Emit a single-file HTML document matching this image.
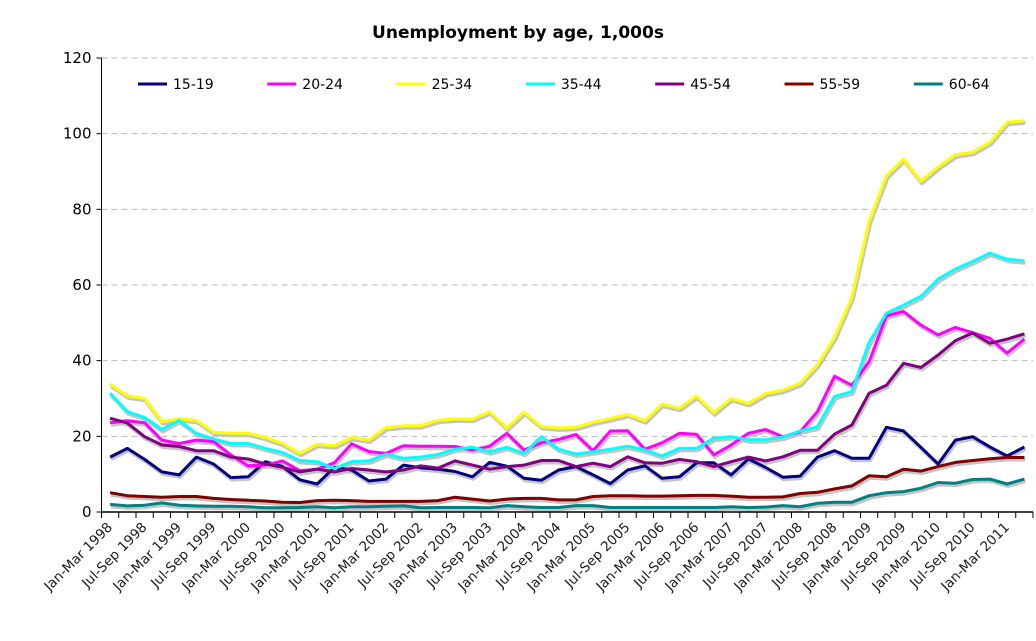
<!DOCTYPE html>
<html><head><meta charset="utf-8"><style>
body{margin:0;background:#fff;}
svg text{font-family:"DejaVu Sans","Liberation Sans",sans-serif;}
</style></head><body>
<svg id="c" width="1036" height="636" xmlns="http://www.w3.org/2000/svg">
<text x="518" y="38" text-anchor="middle" font-size="17" font-weight="bold" fill="#000">Unemployment by age, 1,000s</text>
<g id="grid"></g><g id="shadows"></g><g id="lines"></g><g id="axes"></g><g id="legend"></g>
</svg>
<script>
const seriesNames=["15-19","20-24","25-34","35-44","45-54","55-59","60-64"];
const s1519=[14.5,16.8,13.9,10.6,9.8,14.5,12.7,9.1,9.3,13.3,12.0,8.5,7.4,11.8,11.1,8.2,8.7,12.4,11.7,11.3,10.7,9.3,13.1,12.1,8.9,8.4,11.1,12.0,9.8,7.5,11.1,12.2,8.9,9.3,13.0,13.0,9.8,14.0,11.8,9.2,9.5,14.5,16.2,14.2,14.2,22.4,21.4,17.1,12.7,19.0,19.9,17.2,14.8,17.2];
const s2024=[23.6,24.1,23.6,19.0,18.1,19.0,18.6,15.1,12.2,12.4,13.5,10.9,11.3,13.0,18.0,16.0,15.5,17.5,17.4,17.4,17.3,16.4,17.4,20.8,16.4,18.3,19.2,20.5,16.2,21.4,21.5,16.6,18.3,20.8,20.5,15.1,17.7,20.8,21.8,19.9,21.2,26.5,35.9,33.5,39.7,51.8,53.0,49.4,46.8,48.8,47.4,45.9,42.0,45.7];
const s2534=[33.8,30.7,30.0,23.9,24.6,24.2,21.1,20.8,20.8,19.7,18.1,15.5,17.9,17.5,19.7,19.0,22.3,22.8,22.8,24.2,24.6,24.5,26.5,22.2,26.4,22.6,22.2,22.4,23.7,24.7,25.8,24.1,28.5,27.4,30.7,26.2,30.0,28.7,31.3,32.2,34.0,38.9,46.2,56.8,76.8,88.8,93.3,87.4,91.2,94.4,95.1,97.7,103.0,103.4];
const s3544=[31.4,26.5,25.0,21.8,24.2,20.8,19.3,18.1,18.1,16.8,15.7,13.6,13.3,11.5,13.3,13.5,15.3,14.2,14.5,15.2,16.6,17.1,15.9,17.1,15.5,19.9,16.6,15.3,15.9,16.6,17.4,16.4,14.8,16.8,16.8,19.5,19.9,19.1,19.1,19.8,21.4,22.5,30.5,31.8,44.8,52.5,54.7,57.0,61.5,64.2,66.2,68.4,66.8,66.4];
const s4554=[24.8,23.5,19.9,17.7,17.3,16.2,16.2,14.5,14.0,12.7,11.8,10.6,11.3,10.6,11.5,11.1,10.6,11.1,12.2,11.6,13.5,12.4,11.3,12.0,12.4,13.6,13.6,12.0,12.9,12.0,14.6,13.0,12.9,13.9,13.3,12.0,13.3,14.5,13.5,14.6,16.3,16.3,20.6,23.0,31.4,33.5,39.3,38.2,41.5,45.3,47.3,44.6,45.7,47.1];
const s5559=[5.1,4.3,4.1,3.9,4.1,4.1,3.6,3.3,3.1,2.9,2.6,2.5,3.0,3.1,3.0,2.8,2.8,2.8,2.8,3.0,3.9,3.4,2.9,3.4,3.6,3.6,3.2,3.2,4.1,4.3,4.3,4.2,4.2,4.3,4.4,4.4,4.2,3.9,3.9,4.0,4.9,5.2,6.1,6.9,9.6,9.3,11.3,10.8,12.0,13.1,13.6,14.1,14.4,14.4];
const s6064=[2.0,1.6,1.8,2.4,1.8,1.6,1.5,1.5,1.4,1.1,1.1,1.2,1.4,1.1,1.4,1.4,1.5,1.6,1.1,1.2,1.2,1.2,1.1,1.7,1.4,1.2,1.2,1.7,1.7,1.2,1.2,1.2,1.2,1.2,1.2,1.2,1.4,1.2,1.3,1.7,1.4,2.3,2.6,2.6,4.3,5.1,5.4,6.3,7.8,7.6,8.6,8.7,7.4,8.7];
const yTicks=[0,20,40,60,80,100,120];
const years=[1998,1999,2000,2001,2002,2003,2004,2005,2006,2007,2008,2009,2010,2011];
const qNames=["Jan-Mar","Apr-Jun","Jul-Sep","Oct-Dec"];
const allSeries=[s1519,s2024,s2534,s3544,s4554,s5559,s6064];
const colors=["#000080","#ff00ff","#ffff00","#00ffff","#800080","#800000","#008080"];
const NS="http://www.w3.org/2000/svg";
const X0=101.5,X1=1033,Y0=512,Y1=58,N=s1519.length,step=(X1-X0)/N;
const xs=i=>X0+step*(i+0.5);
const ys=v=>Y0-(v/120)*(Y0-Y1);
function mk(t,a,p){const e=document.createElementNS(NS,t);for(const k in a)e.setAttribute(k,a[k]);p.appendChild(e);return e;}
const grid=document.getElementById('grid'),axes=document.getElementById('axes');
yTicks.forEach(v=>{
  if(v>0){const g=mk('line',{x1:X0,x2:X1,y1:ys(v),y2:ys(v),stroke:'#bbb','stroke-dasharray':'6,4','stroke-width':1},grid);
  
  }
  const t=mk('text',{x:X0-10,y:ys(v)+5,'text-anchor':'end','font-size':15,fill:'#000'},axes);t.textContent=v;
  
  
  mk('line',{x1:X0-5,x2:X0,y1:ys(v),y2:ys(v),stroke:'#000'},axes);
});
const ax=mk('line',{x1:X0,x2:X0,y1:Y1,y2:Y0,stroke:'#000','stroke-width':1},axes);


const bx=mk('line',{x1:X0,x2:X1,y1:Y0,y2:Y0,stroke:'#000','stroke-width':1.5},axes);


for(let i=0;i<=N;i++)mk('line',{x1:X0+step*i,x2:X0+step*i,y1:Y0,y2:Y0+6,stroke:'#000'},axes);
for(let i=0;i<N;i+=2){
  const yr=years[Math.floor(i/4)],q=qNames[i%4];
  const lbl=q==="Jul-Sep"?q+"  "+yr:q+" "+yr;
  const x=xs(i)+3,y=Y0+16;
  const t=mk('text',{x:x,y:y,'text-anchor':'end','font-size':13.5,fill:'#1a1a1a',transform:`rotate(-45 ${x} ${y})`},axes);
  t.textContent=lbl;
  
  
}
const sh=document.getElementById('shadows'),ln=document.getElementById('lines');
allSeries.forEach((s,k)=>{
  const d=s.map((v,i)=>(i?'L':'M')+xs(i).toFixed(1)+','+ys(v).toFixed(1)).join('');
  mk('path',{d:d,fill:'none',stroke:'#c4c4c4','stroke-width':4,transform:'translate(1,2)','stroke-linejoin':'round'},sh);
  const p=mk('path',{d:d,fill:'none',stroke:colors[k],'stroke-width':3,'stroke-linejoin':'round'},ln);
  
  
});
const lg=document.getElementById('legend');
seriesNames.forEach((n,k)=>{
  const x=138+k*129.3;
  const g=mk('g',{},lg);
  
  
  mk('line',{x1:x,x2:x+29,y1:84,y2:84,stroke:colors[k],'stroke-width':3},g);
  const t=mk('text',{x:x+35,y:89,'font-size':14,fill:'#000'},g);t.textContent=n;
});
</script>
</body></html>
